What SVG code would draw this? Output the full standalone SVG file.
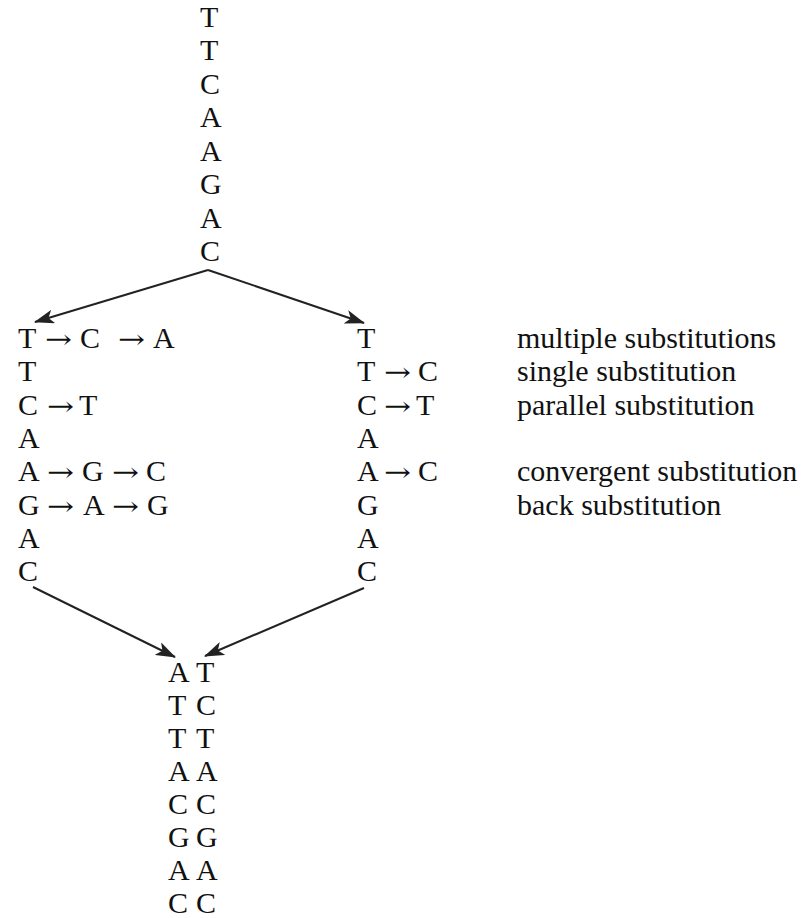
<svg xmlns="http://www.w3.org/2000/svg" width="812" height="918" viewBox="0 0 812 918">
  <style>
    text { font-family: "Liberation Serif", "DejaVu Serif", serif; font-size: 30px; fill: #111; }
    text.arr { font-family: "DejaVu Serif", "Liberation Serif", serif; font-size: 26px; }
    .edge { stroke: #222; stroke-width: 2; fill: none; }
  </style>
  <defs>
    <marker id="head" viewBox="0 0 20 14" refX="19" refY="7" markerWidth="20" markerHeight="14" markerUnits="userSpaceOnUse" orient="auto">
      <path d="M0,0 L20,7 L0,14 L5,7 Z" fill="#222"/>
    </marker>
  </defs>

  <rect width="812" height="918" fill="#fff"/>

  <!-- ancestral sequence -->
  <g id="ancestor">
    <text x="200" y="27">T</text>
    <text x="200" y="60">T</text>
    <text x="200" y="94">C</text>
    <text x="200" y="127">A</text>
    <text x="200" y="161">A</text>
    <text x="200" y="194">G</text>
    <text x="200" y="228">A</text>
    <text x="200" y="261">C</text>
  </g>

  <!-- left lineage -->
  <g id="lineage-left">
    <text x="18" y="348">T</text><text class="arr" x="45" y="348" textLength="27" lengthAdjust="spacingAndGlyphs">→</text><text x="80" y="348">C</text><text class="arr" x="118" y="348" textLength="27" lengthAdjust="spacingAndGlyphs">→</text><text x="153" y="348">A</text>
    <text x="18" y="381">T</text>
    <text x="18" y="415">C</text><text class="arr" x="47" y="415" textLength="27" lengthAdjust="spacingAndGlyphs">→</text><text x="79" y="415">T</text>
    <text x="18" y="448">A</text>
    <text x="18" y="481">A</text><text class="arr" x="47" y="481" textLength="27" lengthAdjust="spacingAndGlyphs">→</text><text x="82" y="481">G</text><text class="arr" x="112" y="481" textLength="27" lengthAdjust="spacingAndGlyphs">→</text><text x="146" y="481">C</text>
    <text x="18" y="515">G</text><text class="arr" x="47" y="515" textLength="27" lengthAdjust="spacingAndGlyphs">→</text><text x="83" y="515">A</text><text class="arr" x="112" y="515" textLength="27" lengthAdjust="spacingAndGlyphs">→</text><text x="147" y="515">G</text>
    <text x="18" y="548">A</text>
    <text x="18" y="581">C</text>
  </g>

  <!-- right lineage -->
  <g id="lineage-right">
    <text x="357" y="348">T</text>
    <text x="357" y="381">T</text><text class="arr" x="384" y="381" textLength="27" lengthAdjust="spacingAndGlyphs">→</text><text x="418" y="381">C</text>
    <text x="357" y="415">C</text><text class="arr" x="384" y="415" textLength="27" lengthAdjust="spacingAndGlyphs">→</text><text x="416" y="415">T</text>
    <text x="357" y="448">A</text>
    <text x="357" y="481">A</text><text class="arr" x="384" y="481" textLength="27" lengthAdjust="spacingAndGlyphs">→</text><text x="418" y="481">C</text>
    <text x="357" y="515">G</text>
    <text x="357" y="548">A</text>
    <text x="357" y="581">C</text>
  </g>

  <!-- substitution types -->
  <g id="labels">
    <text x="517" y="348">multiple substitutions</text>
    <text x="517" y="381">single substitution</text>
    <text x="517" y="415">parallel substitution</text>
    <text x="517" y="481">convergent substitution</text>
    <text x="517" y="515">back substitution</text>
  </g>

  <!-- present-day pair of sequences -->
  <g id="descendants">
    <text x="168" y="682">A</text><text x="196" y="682">T</text>
    <text x="168" y="715">T</text><text x="196" y="715">C</text>
    <text x="168" y="748">T</text><text x="196" y="748">T</text>
    <text x="168" y="781">A</text><text x="196" y="781">A</text>
    <text x="168" y="814">C</text><text x="196" y="814">C</text>
    <text x="168" y="847">G</text><text x="196" y="847">G</text>
    <text x="168" y="880">A</text><text x="196" y="880">A</text>
    <text x="168" y="913">C</text><text x="196" y="913">C</text>
  </g>

  <g id="connectors">
    <line class="edge" x1="208" y1="270" x2="35" y2="322" marker-end="url(#head)"/>
    <line class="edge" x1="208" y1="270" x2="364" y2="323" marker-end="url(#head)"/>
    <line class="edge" x1="33" y1="587" x2="175" y2="657" marker-end="url(#head)"/>
    <line class="edge" x1="364" y1="588" x2="205" y2="656" marker-end="url(#head)"/>
  </g>
</svg>
